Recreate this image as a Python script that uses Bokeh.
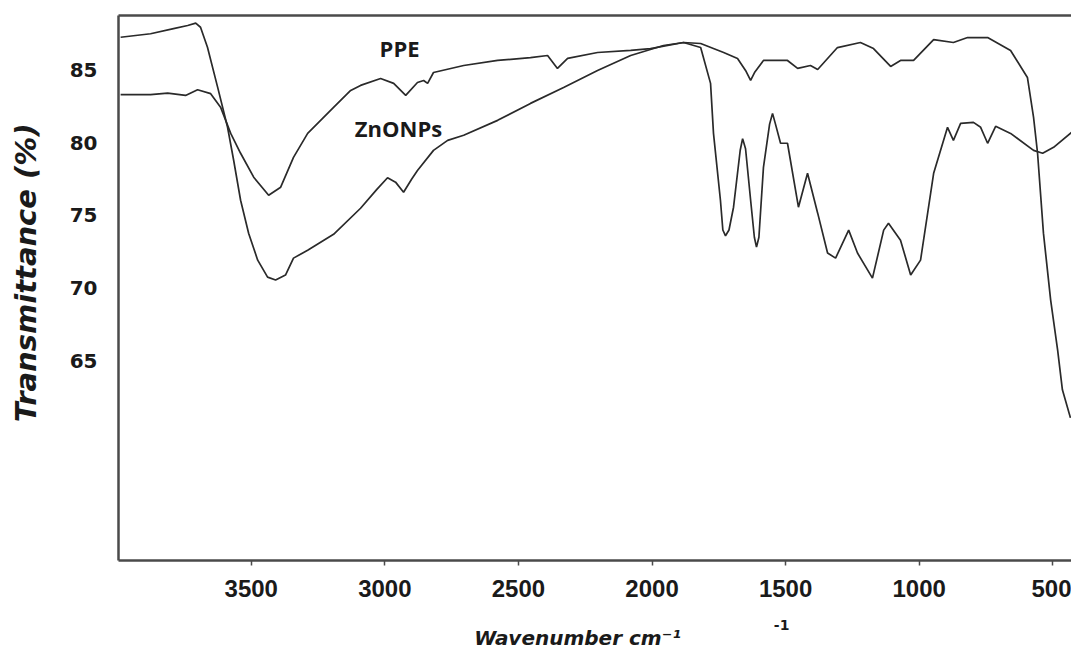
from bokeh.plotting import figure
from bokeh.models import Range1d, FixedTicker, LinearAxis, Label
from bokeh.embed import file_html
from bokeh.resources import INLINE

# ---- data ----
# spectrum with shallow O-H band, flat mid-range, strong drop below 600 cm-1
wn_a = [3989, 3877, 3813, 3746, 3701, 3652, 3615, 3577, 3540, 3491, 3435, 3390,
        3342, 3289, 3192, 3128, 3091, 3016, 2967, 2922, 2878, 2855, 2840, 2818,
        2705, 2578, 2455, 2391, 2354, 2316, 2204, 2080, 2006, 1882, 1818, 1732,
        1680, 1650, 1631, 1615, 1583, 1493, 1455, 1407, 1380, 1306, 1220, 1171,
        1107, 1070, 1021, 946, 872, 819, 744, 658, 595, 572, 557, 535, 508, 482,
        464, 434]
t_a = [83.33, 83.33, 83.44, 83.28, 83.67, 83.40, 82.47, 80.66, 79.29, 77.64, 76.40, 76.95,
       79.01, 80.66, 82.45, 83.62, 83.97, 84.45, 84.11, 83.28, 84.17, 84.31, 84.11, 84.86,
       85.34, 85.69, 85.89, 86.03, 85.14, 85.83, 86.24, 86.38, 86.51, 86.93, 86.86, 86.24,
       85.83, 85.0, 84.31, 84.9, 85.69, 85.69, 85.14, 85.34, 85.07, 86.58, 86.93, 86.51,
       85.28, 85.69, 85.69, 87.13, 86.93, 87.27, 87.27, 86.38, 84.52, 81.77, 79.29, 73.78,
       69.17, 65.73, 62.98, 61.05]

# spectrum with deep O-H band and many bands between 1800 and 1000 cm-1
wn_b = [3989, 3877, 3791, 3738, 3708, 3690, 3664, 3626, 3589, 3566, 3540, 3510,
        3476, 3439, 3409, 3372, 3342, 3289, 3192, 3091, 3030, 2990, 2960, 2930,
        2900, 2878, 2818, 2765, 2705, 2578, 2455, 2331, 2204, 2080, 1957, 1882,
        1818, 1781, 1770, 1744, 1735, 1725, 1712, 1695, 1670, 1661, 1650, 1631,
        1617, 1609, 1600, 1583, 1560, 1549, 1538, 1519, 1493, 1452, 1418, 1380,
        1343, 1313, 1264, 1231, 1175, 1133, 1115, 1070, 1032, 995, 946, 894,
        872, 845, 797, 770, 744, 714, 658, 572, 538, 497, 430]
t_b = [87.29, 87.53, 87.89, 88.10, 88.26, 87.98, 86.60, 83.85, 81.10, 78.81, 76.05, 73.78,
       71.92, 70.75, 70.55, 70.89, 72.06, 72.60, 73.70, 75.50, 76.80, 77.60, 77.30, 76.60,
       77.50, 78.10, 79.49, 80.18, 80.53, 81.56, 82.73, 83.83, 85.00, 86.03, 86.72, 86.93,
       86.58, 84.11, 80.66, 76.05, 74.00, 73.60, 74.00, 75.57, 79.50, 80.30, 79.60, 76.05,
       73.50, 72.82, 73.50, 78.32, 81.30, 82.04, 81.30, 79.98, 79.98, 75.57, 77.91, 75.16,
       72.41, 72.06, 73.99, 72.41, 70.68, 73.99, 74.47, 73.30, 70.89, 71.92, 77.91, 81.08,
       80.18, 81.35, 81.42, 81.08, 79.98, 81.15, 80.66, 79.49, 79.29, 79.70, 80.73]

x_ticks = [3500, 3000, 2500, 2000, 1500, 1000, 500]
y_ticks = [65, 70, 75, 80, 85]

label_ppe = "PPE"
label_zno = "ZnONPs"
NB = "\u00a0"
x_title = "Wavenumber cm\u207b\u00b9" + NB * 5      # trailing pad shifts it left
x_title_extra = "-1"
x_title_extra_at = 1515                             # wavenumber under which it sits
y_title = NB * 3 + "Transmittance (%)"              # leading pad shifts it up

LINE = "#2a2a2a"
AXIS = "#4a4a4a"
TXT = "#1a1a1a"

p = figure(width=1071, height=652, output_backend="svg", toolbar_location=None,
           x_range=Range1d(3997, 430), y_range=Range1d(51.21, 88.79),
           min_border_left=118, min_border_right=0, min_border_top=15,
           min_border_bottom=91)
p.grid.visible = False
p.outline_line_color = None
p.background_fill_color = "white"
p.border_fill_color = "white"

p.line(wn_a, t_a, line_color=LINE, line_width=1.7)
p.line(wn_b, t_b, line_color=LINE, line_width=1.7)

xa = p.xaxis[0]
xa.ticker = FixedTicker(ticks=x_ticks)
xa.major_tick_out = 5
xa.major_tick_in = 0
xa.minor_tick_out = 0
xa.minor_tick_in = 0
xa.major_tick_line_color = AXIS
xa.major_tick_line_width = 1.5
xa.axis_line_color = AXIS
xa.axis_line_width = 2.5
xa.major_label_text_font = "Liberation Sans"
xa.major_label_text_font_style = "bold"
xa.major_label_text_font_size = "24px"
xa.major_label_text_color = TXT
xa.major_label_standoff = 14

ya = p.yaxis[0]
ya.ticker = FixedTicker(ticks=y_ticks)
ya.major_tick_out = 0
ya.major_tick_in = 0
ya.minor_tick_out = 0
ya.minor_tick_in = 0
ya.axis_line_color = AXIS
ya.axis_line_width = 2.5
ya.major_label_text_font = "DejaVu Sans"
ya.major_label_text_font_style = "bold"
ya.major_label_text_font_size = "20px"
ya.major_label_text_color = TXT
ya.major_label_standoff = 21
ya.axis_label = y_title
ya.axis_label_standoff = 24
ya.axis_label_text_font = "DejaVu Sans"
ya.axis_label_text_font_style = "bold italic"
ya.axis_label_text_font_size = "29px"
ya.axis_label_text_color = TXT

# second, line-less bottom axis carrying the x title and the stray "-1"
xa2 = LinearAxis(ticker=FixedTicker(ticks=[x_title_extra_at]),
                 major_label_overrides={x_title_extra_at: x_title_extra},
                 axis_line_color=None, major_tick_line_color=None,
                 major_tick_out=0, major_tick_in=0, minor_tick_out=0, minor_tick_in=0,
                 major_label_standoff=20, major_label_text_font="DejaVu Sans",
                 major_label_text_font_style="bold", major_label_text_font_size="14px",
                 major_label_text_color=TXT,
                 axis_label=x_title, axis_label_standoff=-7,
                 axis_label_text_font="DejaVu Sans",
                 axis_label_text_font_style="bold italic",
                 axis_label_text_font_size="20px", axis_label_text_color=TXT)
p.add_layout(xa2, "below")

top = LinearAxis(ticker=FixedTicker(ticks=[]), major_tick_out=0, major_tick_in=0,
                 minor_tick_out=0, minor_tick_in=0, major_label_text_font_size="0px",
                 axis_line_color=AXIS, axis_line_width=2.5)
p.add_layout(top, "above")

# curve labels
p.add_layout(Label(x=2945, y=86.52, text=label_ppe, text_font="Open Sans",
                   text_font_style="bold", text_font_size="22px", text_color=TXT,
                   text_align="center", text_baseline="middle"))
p.add_layout(Label(x=2949, y=81.0, text=label_zno, text_font="Open Sans",
                   text_font_style="bold", text_font_size="22px", text_color=TXT,
                   text_align="center", text_baseline="middle"))

open("out.html", "w").write(file_html(p, INLINE))
